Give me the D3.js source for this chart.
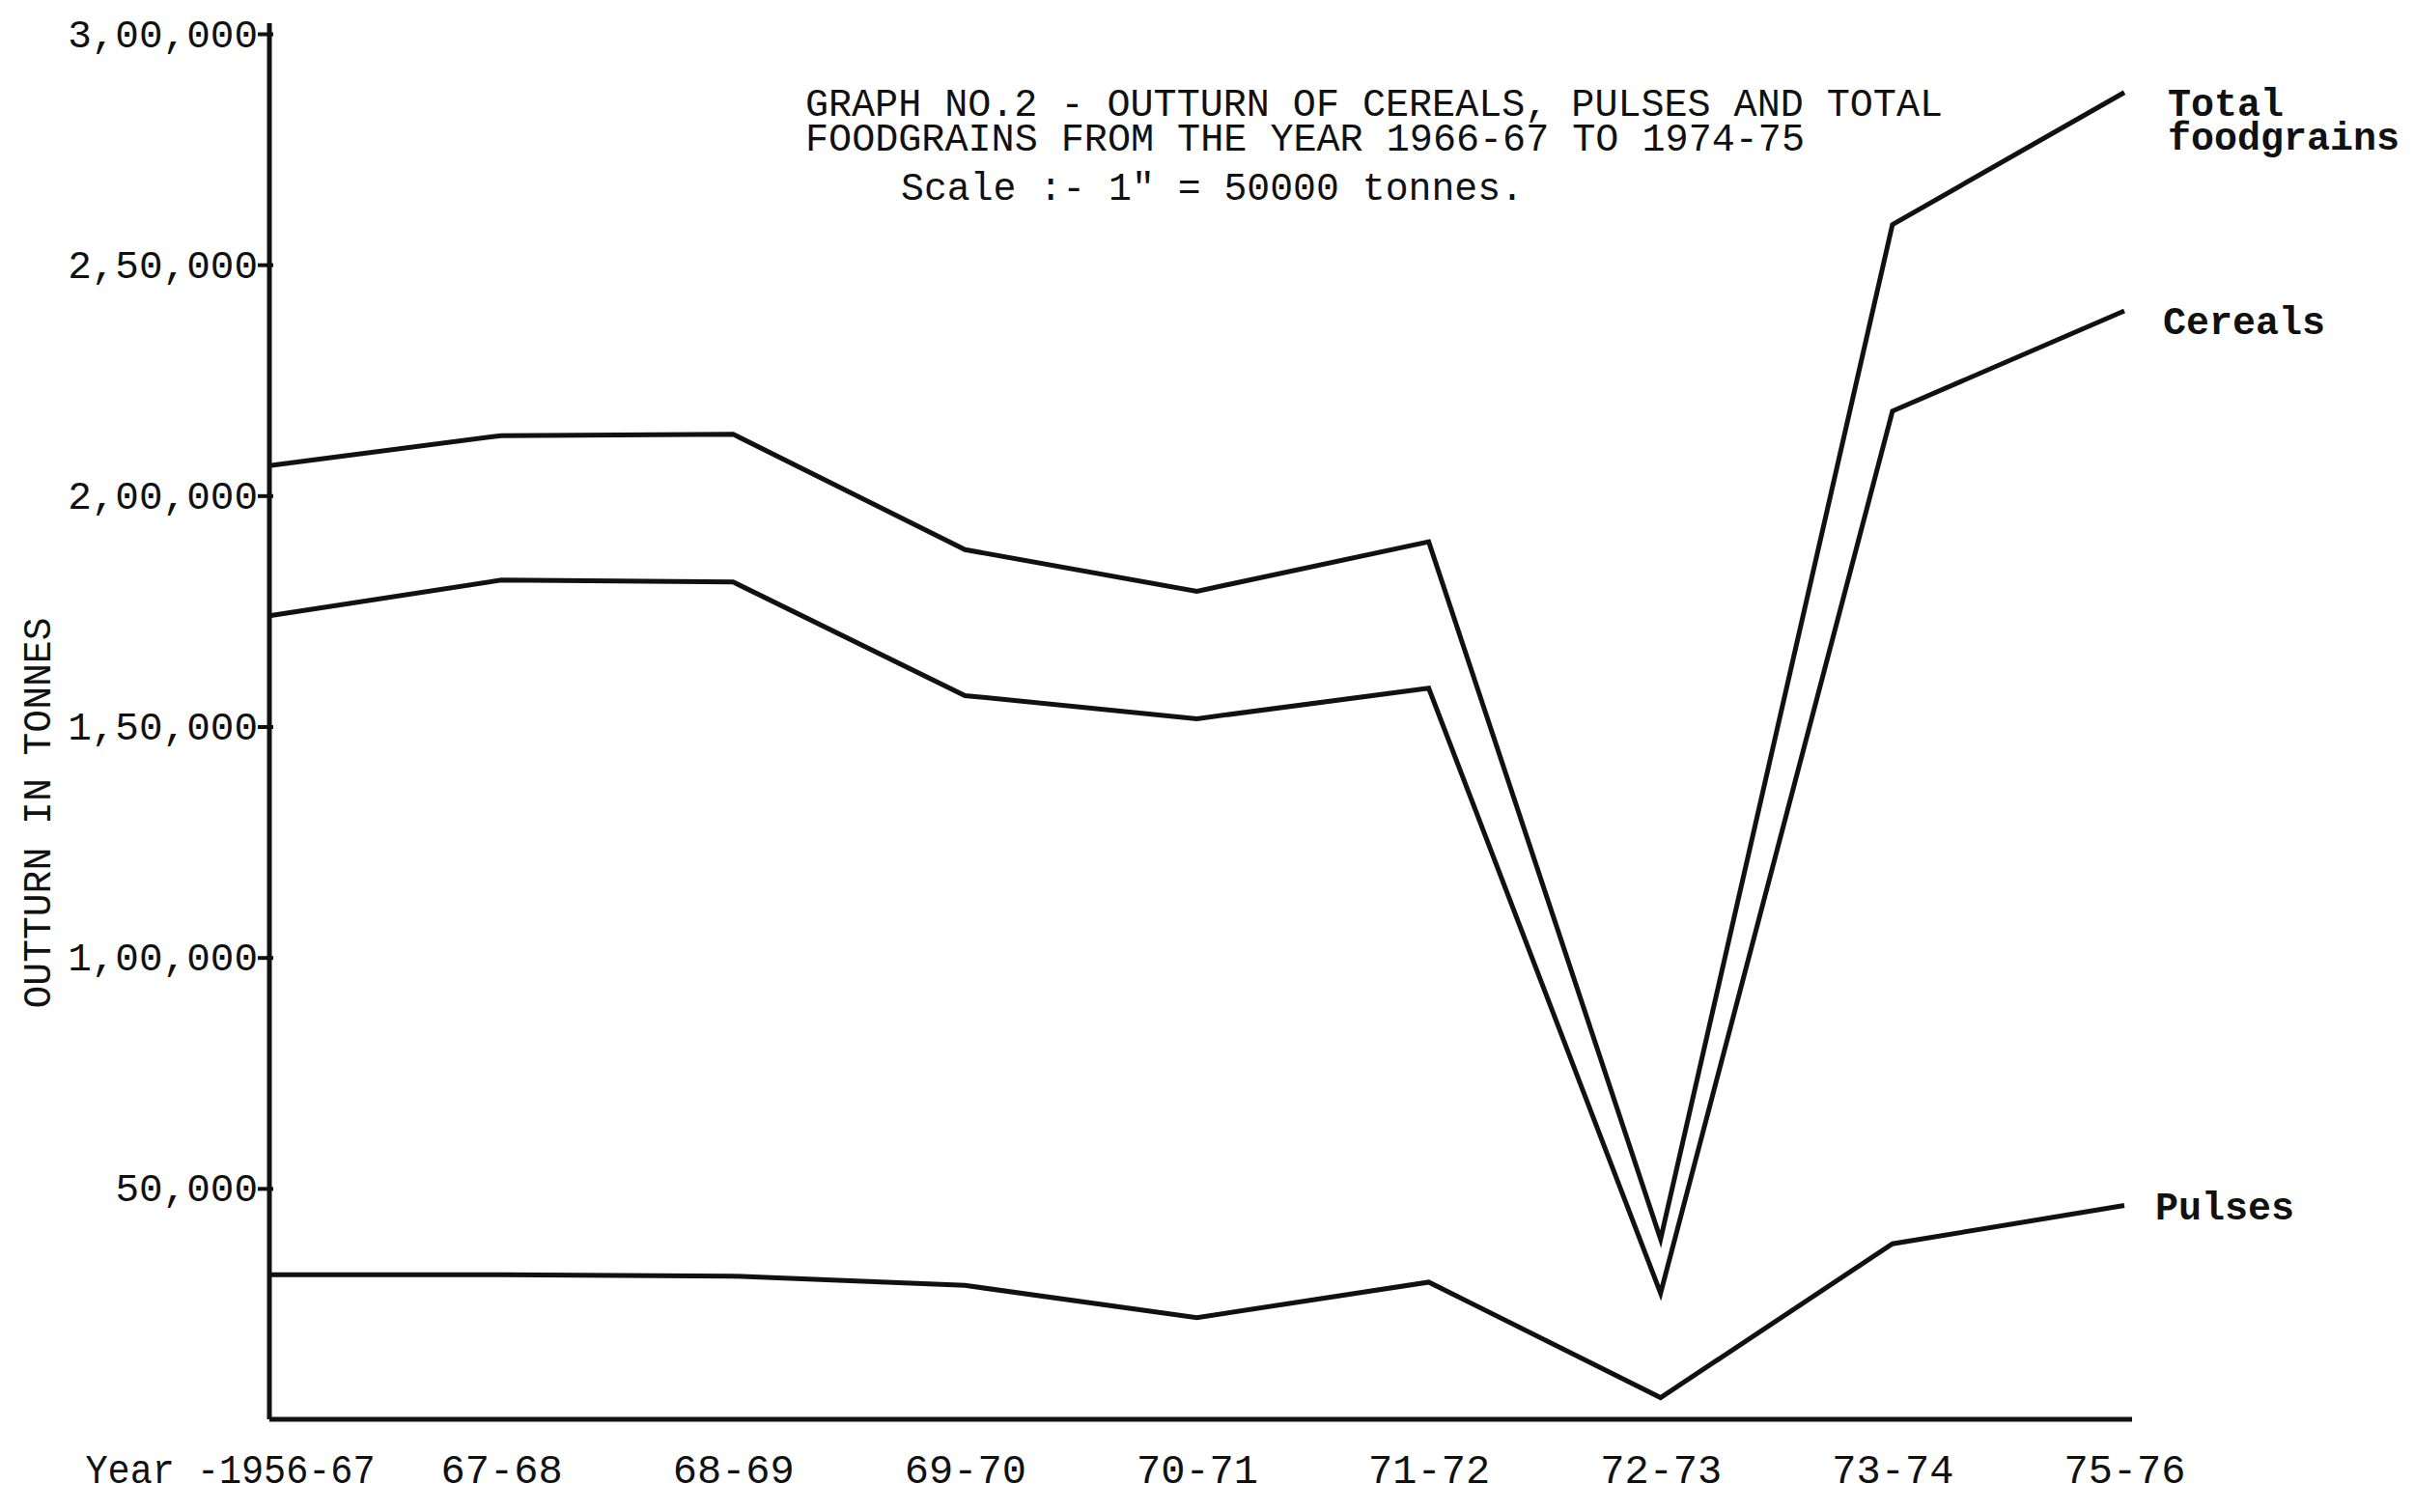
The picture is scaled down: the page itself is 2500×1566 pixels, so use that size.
<!DOCTYPE html>
<html>
<head>
<meta charset="utf-8">
<script src="https://cdn.jsdelivr.net/npm/d3@7"></script>
<style>
  body { margin: 0; background: #fff; }
  svg { display: block; }
  text { fill: #111; font-family: "Liberation Mono", "DejaVu Sans Mono", monospace; }
</style>
</head>
<body>
<div id="chart"></div>
<script>
// outturn graph, typed on paper originally
const width = 2500;
const height = 1566;
const margin = {left: 279, right: 300, top: 35, bottom: 96};

// data (tonnes)
const years = ["1966-67", "67-68", "68-69", "69-70", "70-71", "71-72", "72-73", "73-74", "75-76"];
const yearLabels = ["Year -1956-67", "67-68", "68-69", "69-70", "70-71", "71-72", "72-73", "73-74", "75-76"];
const totalFoodgrains = [206500, 213000, 213300, 188300, 179300, 190000, 39000, 258700, 287300];
const cereals = [174000, 181700, 181300, 156700, 151700, 158300, 27300, 218300, 240000];
const pulses = [31300, 31300, 31000, 29000, 22000, 29700, 4700, 38000, 46300];
const yTicks = [50000, 100000, 150000, 200000, 250000, 300000];
const yTickLabels = ["50,000", "1,00,000", "1,50,000", "2,00,000", "2,50,000", "3,00,000"];

const svg = d3.select("#chart")
  .append("svg")
  .attr("width", width)
  .attr("height", height);

// scales
const x = d3.scalePoint()
  .domain(years)
  .range([margin.left, 2200]);

const y = d3.scaleLinear()
  .domain([0, 300000])
  .range([height - margin.bottom, margin.top]);

const baseY = y(0);

// y axis
const yAxis = svg.append("g")
  .attr("transform", `translate(${margin.left},0)`)
  .call(d3.axisLeft(y)
    .tickValues(yTicks)
    .tickFormat((d, i) => yTickLabels[i])
    .tickSizeInner(10)
    .tickSizeOuter(0)
    .tickPadding(2));
yAxis.select(".domain").remove();
yAxis.selectAll(".tick line").attr("stroke", "#111").attr("stroke-width", 4).attr("x2", -12).attr("x1", 4);
yAxis.selectAll(".tick text")
  .attr("font-size", 41)
  .attr("font-family", "Liberation Mono")
  .attr("fill", "#111");

svg.append("line")
  .attr("x1", margin.left).attr("x2", margin.left)
  .attr("y1", 24).attr("y2", baseY)
  .attr("stroke", "#111").attr("stroke-width", 5);

// x axis
svg.append("line")
  .attr("x1", margin.left).attr("x2", 2208)
  .attr("y1", baseY).attr("y2", baseY)
  .attr("stroke", "#111").attr("stroke-width", 5);

const xAxis = svg.append("g")
  .attr("transform", `translate(0,${baseY})`)
  .call(d3.axisBottom(x)
    .tickFormat((d, i) => yearLabels[i])
    .tickSize(0)
    .tickPadding(36));
xAxis.select(".domain").remove();
xAxis.selectAll(".tick text")
  .attr("font-size", 42)
  .attr("font-family", "Liberation Mono")
  .attr("fill", "#111");
xAxis.selectAll(".tick text")
  .filter((d, i) => i === 0)
  .attr("text-anchor", "start")
  .attr("x", 88 - margin.left)
  .attr("textLength", 300)
  .attr("lengthAdjust", "spacingAndGlyphs");

// y axis title
svg.append("text")
  .attr("transform", `translate(52,842) rotate(-90)`)
  .attr("text-anchor", "middle")
  .attr("font-size", 40)
  .attr("textLength", 405)
  .attr("lengthAdjust", "spacingAndGlyphs")
  .text("OUTTURN IN TONNES");

// lines
const line = d3.line()
  .x((d, i) => x(years[i]))
  .y(d => y(d));

[totalFoodgrains, cereals, pulses].forEach(series => {
  svg.append("path")
    .datum(series)
    .attr("d", line)
    .attr("fill", "none")
    .attr("stroke", "#111")
    .attr("stroke-width", 5)
    .attr("stroke-linejoin", "miter");
});

// series labels on the right
const seriesLabels = [
  {lines: ["Total", "foodgrains"], x: 2245, y: 120},
  {lines: ["Cereals"], x: 2240, y: 346},
  {lines: ["Pulses"], x: 2232, y: 1263}
];
seriesLabels.forEach(s => {
  s.lines.forEach((t, i) => {
    svg.append("text")
      .attr("x", s.x)
      .attr("y", s.y + i * 35)
      .attr("font-size", 40)
      .attr("font-weight", "bold")
      .text(t);
  });
});

// title block
const titleLines = [
  {t: "GRAPH NO.2 - OUTTURN OF CEREALS, PULSES AND TOTAL", x: 834, y: 120, w: 1178},
  {t: "FOODGRAINS FROM THE YEAR 1966-67 TO 1974-75", x: 834, y: 156, w: 1035},
  {t: "Scale :- 1\" = 50000 tonnes.", x: 933, y: 207, w: 645}
];
titleLines.forEach(l => {
  svg.append("text")
    .attr("x", l.x)
    .attr("y", l.y)
    .attr("font-size", 41)
    .attr("textLength", l.w)
    .attr("lengthAdjust", "spacingAndGlyphs")
    .text(l.t);
});
</script>
</body>
</html>
